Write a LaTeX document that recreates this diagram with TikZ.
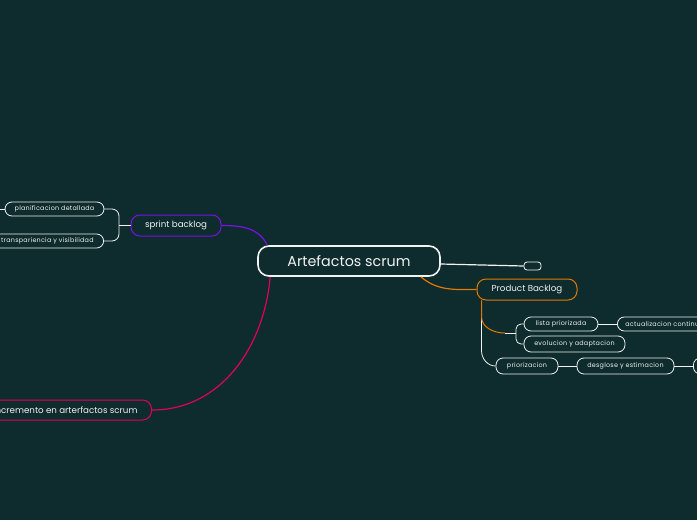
\documentclass[tikz,border=0pt]{standalone}
\usepackage{fontspec}
\setmainfont{Poppins}
\usepackage{xcolor}
\usetikzlibrary{positioning, calc}
\definecolor{bgteal}{HTML}{0E2B2D}
\definecolor{pborange}{HTML}{E07A00}
\definecolor{sbpurple}{HTML}{7A12E6}
\definecolor{incred}{HTML}{E3005C}
\definecolor{nodewhite}{HTML}{F2F2F2}

\begin{document}
\begin{tikzpicture}[x=1pt, y=1pt,
  every node/.style={text=nodewhite, font=\fontsize{6.4}{7}\selectfont\addfontfeature{LetterSpace=4}},
  topic/.style={draw=nodewhite, line width=1.6pt, rounded corners=11pt, fill=bgteal,
    minimum width=182pt, minimum height=30pt, font=\fontsize{14.3}{16}\selectfont},
  branch/.style={draw=#1, line width=1pt, rounded corners=9pt, fill=bgteal,
    minimum height=21pt, font=\fontsize{8.7}{10}\selectfont},
  leaf/.style={draw=nodewhite, line width=0.8pt, rounded corners=7pt, fill=bgteal,
    minimum height=14pt, inner xsep=8pt},
  link/.style={draw=#1, line width=1.2pt},
  leaflink/.style={draw=nodewhite, line width=0.8pt}]
% Canvas
\fill[bgteal] (0,0) rectangle (697,-520);
\useasboundingbox (0,0) rectangle (697,-520);
\clip (0,0) rectangle (697,-520);
% Central topic and main branches
\node[topic] (root) at (349,-261) {Artefactos scrum};
\node[draw=nodewhite!85, line width=0.8pt, rounded corners=3pt, minimum width=17pt,
  minimum height=8pt, inner sep=0pt] (blank) at (532.5,-266) {};
\node[branch=pborange, minimum width=100pt] (pbacklog) at (527,-289.5) {Product Backlog};
\node[branch=sbpurple, minimum width=90pt] (sbacklog) at (176,-225.5) {sprint backlog};
\node[branch=incred, anchor=east, minimum height=20pt, inner xsep=14pt] (incremento)
  at (152,-410) {Incremento en arterfactos scrum};
% Product Backlog leaves
\node[leaf, minimum width=74pt] (lista) at (561,-324) {lista priorizada};
\node[leaf, anchor=west, minimum width=90pt] (actual) at (617,-324) {actualizacion continua};
\node[leaf, minimum width=101pt, minimum height=16pt] (evol) at (574.5,-344) {evolucion y adaptacion};
\node[leaf, minimum width=62pt, minimum height=16pt] (prior) at (527,-366) {priorizacion};
\node[leaf, minimum width=97pt, minimum height=16pt] (desglose) at (625.5,-366) {desglose y estimacion};
\node[leaf, anchor=west, minimum width=30pt, minimum height=16pt] (desgnext) at (693,-366) {};
% sprint backlog leaves
\node[leaf, minimum width=99pt] (planif) at (54.5,-209) {planificacion detallada};
\node[leaf, anchor=east, inner xsep=10pt] (transp) at (104,-241) {transpariencia y visibilidad};
% Root connectors
\draw[link=nodewhite] ([yshift=-3pt]root.east) -- (blank.west);
\draw[link=pborange] ([xshift=-20pt]root.south east) to[out=-40,in=180] (pbacklog.west);
\draw[link=sbpurple] ([xshift=10pt]root.north west) to[out=115,in=0] (sbacklog.east);
\draw[link=incred] ([xshift=13pt]root.south west) to[out=-95,in=0] (incremento.east);
% Product Backlog connectors
\coordinate (pbfoot) at ([xshift=5pt]pbacklog.south west);
\coordinate (pbknee) at (505,-333);
\coordinate (pbfork) at (516,-333);
\draw[leaflink] (pbfoot) -- ++(0,-50) to[out=-90,in=180] (prior.west);
\draw[link=pborange, line width=1pt] (pbfoot) -- ++(0,-16) to[out=-90,in=180] (pbknee);
\draw[leaflink] (pbknee) -- (pbfork);
\draw[leaflink, rounded corners=5pt] (pbfork) |- (lista.west);
\draw[leaflink, rounded corners=5pt] (pbfork) |- (evol.west);
% sprint backlog connectors
\coordinate (sbfork) at (119,-225.5);
\coordinate (planifout) at (-6,-209);
\draw[leaflink] (sbacklog.west) -- (sbfork);
\draw[leaflink, rounded corners=7pt] (sbfork) |- (planif.east);
\draw[leaflink, rounded corners=7pt] (sbfork) |- (transp.east);
\draw[leaflink] (planif.west) -- (planifout);
% Straight leaf links
\foreach \a/\b in {lista/actual, prior/desglose, desglose/desgnext} {
  \draw[leaflink] (\a) -- (\b);
}
\end{tikzpicture}
\end{document}
